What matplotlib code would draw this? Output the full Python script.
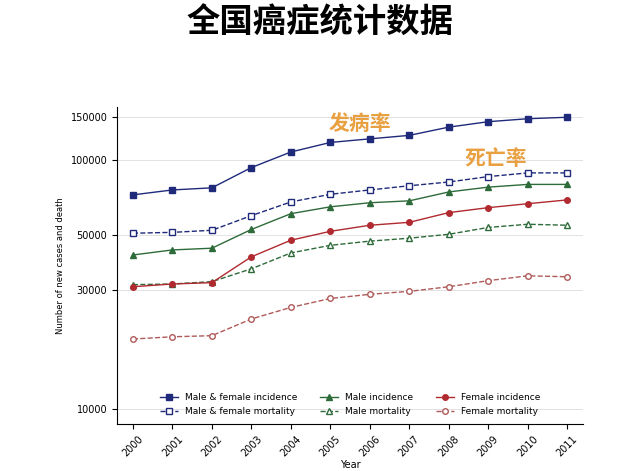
import matplotlib.pyplot as plt
from matplotlib.ticker import FixedLocator, NullLocator

plt.rcParams['font.family'] = ['DejaVu Sans', 'Noto Sans CJK SC']

years = list(range(2000, 2012))
mf_inc = [72600, 76000, 77500, 93500, 108000, 118000, 122000, 126000, 136000, 143000, 147000, 149000]
mf_mort = [50900, 51300, 52300, 59900, 68000, 73000, 76000, 79000, 81800, 86000, 89000, 89000]
m_inc = [41600, 43600, 44300, 52700, 61000, 65000, 67500, 68700, 74600, 78000, 80000, 80000]
m_mort = [31600, 31800, 32500, 36600, 42400, 45500, 47300, 48600, 50400, 53700, 55300, 54800]
f_inc = [31000, 31800, 32200, 40900, 47700, 51800, 54800, 56300, 61600, 64500, 66900, 69300]
f_mort = [19100, 19500, 19700, 23000, 25600, 27800, 28900, 29700, 31000, 32800, 34300, 34000]
yticks = [10000, 30000, 50000, 100000, 150000]

navy = '#1f2a7a'
green = '#2e6b3a'
red = '#b02a30'
pink = '#b05a5a'

fig = plt.figure(figsize=(6.4, 4.71), dpi=100)
ax = fig.add_axes([0.183, 0.1, 0.728, 0.673])

# order so that legend rows are incidence / mortality
ax.plot(years, mf_inc, '-s', color=navy, ms=4, lw=1, label='Male & female incidence')
ax.plot(years, mf_mort, '--s', color=navy, mfc='white', ms=4, lw=1, label='Male & female mortality')
ax.plot(years, m_inc, '-^', color=green, ms=4, lw=1, label='Male incidence')
ax.plot(years, m_mort, '--^', color=green, mfc='white', ms=4, lw=1, label='Male mortality')
ax.plot(years, f_inc, '-o', color=red, ms=4, lw=1, label='Female incidence')
ax.plot(years, f_mort, '--o', color=pink, mfc='white', ms=4, lw=1, label='Female mortality')

ax.set_yscale('log')
ax.set_ylim(8700, 164000)
ax.set_xlim(1999.6, 2011.4)
ax.yaxis.set_major_locator(FixedLocator(yticks))
ax.yaxis.set_minor_locator(NullLocator())
ax.set_yticklabels([str(v) for v in yticks], fontsize=7)
ax.set_xticks(years)
ax.set_xticklabels([str(y) for y in years], rotation=45, fontsize=7)
ax.set_xlabel('Year', fontsize=7, labelpad=1)
ax.set_ylabel('Number of new cases and death', fontsize=6)
ax.grid(axis='y', color='#dddddd', lw=0.6)
ax.spines['top'].set_visible(False)
ax.spines['right'].set_visible(False)

ax.legend(loc='lower center', ncol=3, fontsize=6.5, frameon=False,
          bbox_to_anchor=(0.5, 0.0), columnspacing=2.5)

fig.text(0.5, 0.95, '全国癌症统计数据', ha='center', va='center', fontsize=24,
         fontweight='bold', family='Noto Sans CJK SC')
ax.text(2004.95, 128000, '发病率', color='#e8a040', fontsize=15, style='italic',
        fontweight='bold', family='Noto Sans CJK SC', va='bottom')
ax.text(2008.4, 92000, '死亡率', color='#e8a040', fontsize=15, style='italic',
        fontweight='bold', family='Noto Sans CJK SC', va='bottom')

fig.savefig('out.png')
